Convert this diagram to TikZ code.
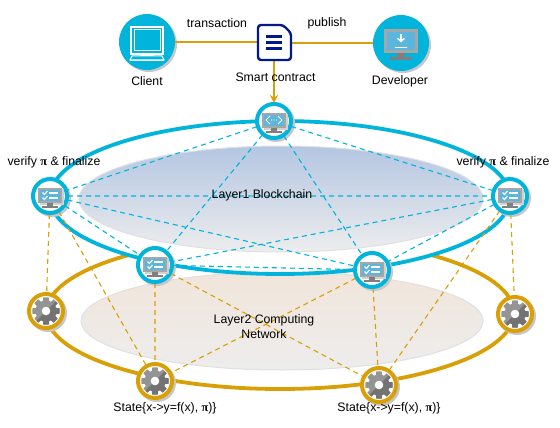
\documentclass[tikz,border=0pt]{standalone}
\usepackage{fontspec}
\setmainfont{Liberation Sans}
\newfontfamily\pifont{Liberation Serif}
\usetikzlibrary{shapes.geometric,arrows.meta}
\definecolor{cy}{HTML}{00B4DC}
\definecolor{au}{HTML}{D99F06}
\definecolor{nv}{HTML}{001A8C}
\definecolor{sc}{HTML}{5BB5DD}
\definecolor{fr}{HTML}{A6A6A6}
\definecolor{st}{HTML}{7F7F7F}
\definecolor{skytop}{HTML}{B4C6E2}
\definecolor{tantop}{HTML}{F1E5DA}
\definecolor{softbot}{HTML}{EDEDED}
\newcommand{\ppi}{{\pifont\bfseries π}}
\tikzset{
 x=1pt,y=-1pt,
 lbl/.style={font=\fontsize{12.3}{14.5}\selectfont,inner sep=0pt,align=center,text=black},
 bigell/.style={draw,ellipse,inner sep=0pt,outer sep=0pt,line width=3.8pt},
 softell/.style={ellipse,inner sep=0pt,outer sep=0pt,draw=black!12,line width=1pt},
 blring/.style={circle,draw=cy,fill=white,line width=4pt,minimum size=34pt,inner sep=0pt,outer sep=0pt},
 auring/.style={circle,draw=au,fill=white,line width=4pt,minimum size=34pt,inner sep=0pt,outer sep=0pt},
 badge/.style={circle,fill=cy,minimum size=56pt,inner sep=0pt,outer sep=0pt},
 shad/.style={circle,fill=black!22,minimum size=#1,inner sep=0pt},
 anchorpt/.style={circle,minimum size=36pt,inner sep=0pt,outer sep=0pt},
 bldash/.style={draw=cy,line width=1.1pt,dash pattern=on 5pt off 4pt},
 audash/.style={draw=au,line width=1.1pt,dash pattern=on 5pt off 4pt},
 auline/.style={draw=au,line width=1.5pt},
 mon/.pic={
  \fill[black!18] (-10.5,-7) rectangle (13.5,8.5);
  \fill[fr] (-12,-8.5) rectangle (12,7);
  \fill[sc] (-10,-6.5) rectangle (10,5);
  \fill[st] (-3,7) rectangle (3,10);
  \fill[st] (-8,10) rectangle (8,12);
 },
 chk/.pic={
  \draw[white,line width=1.1pt] (-7.5,-3.5) -- (-5.5,-1.5) -- (-2.5,-5);
  \draw[white,line width=1.1pt] (-7.5,1.5) -- (-5.5,3.5) -- (-2.5,0);
  \draw[white,line width=1.1pt] (-1,-3) -- (8,-3) (-1,2) -- (8,2);
 },
 gearic/.pic={
  \begin{scope}
   \clip (-11:14) \foreach \a in {0,45,...,315}{ -- (\a-11:14) -- (\a+11:14) -- (\a+17:10.5) -- (\a+28:10.5)} -- cycle;
   \fill[black!42] (-15,-15) rectangle (15,15);
   \fill[black!55] (-2,2) -- (15,-15) -- (15,15) -- (-15,15) -- cycle;
  \end{scope}
  \fill[white] (0,0) circle (4.3);
 }
}
\begin{document}
\begin{tikzpicture}
\useasboundingbox (0,0) rectangle (560,428);
% layer 2
\node[softell,minimum width=402pt,minimum height=98pt,top color=tantop,bottom color=softbot] (tan) at (282,321) {};
\node[bigell,draw=au,minimum width=468pt,minimum height=152pt] (goldring) at (280,313) {};
% layer 1
\node[bigell,draw=cy,fill=white,minimum width=460pt,minimum height=153pt] (bluering) at (280,197.5) {};
\node[softell,minimum width=404pt,minimum height=106pt,top color=skytop,bottom color=softbot] (sky) at (281,199) {};
% shadows
\node[shad=38pt] (s1) at (276,123) {};
\node[shad=38pt] (s2) at (52,198) {};
\node[shad=38pt] (s3) at (512,198) {};
\node[shad=38pt] (s4) at (157,267) {};
\node[shad=38pt] (s5) at (374,272) {};
\node[shad=38pt] (s6) at (48,313) {};
\node[shad=38pt] (s7) at (517,316) {};
\node[shad=38pt] (s8) at (157,383) {};
\node[shad=38pt] (s9) at (381,387) {};
\node[anchorpt] (c) at (274,121) {};
\node[anchorpt] (l) at (50,196) {};
\node[anchorpt] (r) at (510,196) {};
\node[anchorpt] (f) at (155,265) {};
\node[anchorpt] (g) at (372,270) {};
\node[anchorpt] (g1) at (46,311) {};
\node[anchorpt] (g2) at (515,314) {};
\node[anchorpt] (g3) at (155,381) {};
\node[anchorpt] (g4) at (379,385) {};
% blue mesh
\draw[bldash] (c)--(l) (c)--(r) (c)--(f) (c)--(g) (l)--(r) (l)--(f) (l)--(g) (r)--(f) (r)--(g) (f)--(g);
% gold mesh
\draw[audash] (l)--(g1) (l)--(g3) (f)--(g3) (f)--(g4) (g)--(g3) (g)--(g4) (r)--(g4) (r)--(g2);
% rings on top
\node[blring] at (c) {};
\node[blring] at (l) {};
\node[blring] at (r) {};
\node[blring] at (f) {};
\node[blring] at (g) {};
\node[auring] at (g1) {};
\node[auring] at (g2) {};
\node[auring] at (g3) {};
\node[auring] at (g4) {};
\foreach \n in {l,r,f,g}{ \pic at (\n) {mon}; \pic at (\n) {chk}; }
\pic at (c) {mon};
\draw[white,line width=.9pt] (c)++(-4,-5) -- ++(-4,4) -- ++(4,4);
\draw[white,line width=.9pt] (c)++(4,-5) -- ++(4,4) -- ++(-4,4);
\foreach \d in {-2.5,0,2.5}{\fill[white] (c)++(\d,-1) circle (.7);}
\foreach \n in {g1,g2,g3,g4}{ \pic at (\n) {gearic}; }
% top row
\node[shad=56pt] (sa) at (149,44) {};
\node[shad=56pt] (sb) at (403,45) {};
\node[badge] (client) at (147,42) {};
\node[badge] (dev) at (401,43) {};
\node[minimum width=33pt,minimum height=35pt,inner sep=0pt,outer sep=0pt] (doc) at (274,42.5) {};
\draw[auline] (client) -- (doc.west |- client);
\draw[auline] (doc.east |- dev) -- (dev);
\draw[auline,-{Stealth[length=8pt,width=8pt]}] (doc) -- (c);
\draw[draw=nv,fill=white,line width=2.4pt,rounded corners=3pt] (258,25) -- (283,25) -- (291,33) -- (291,60) -- (258,60) -- cycle;
% client icon
\draw[white,line width=1.2pt] (client)++(-16,-15) rectangle ++(32,27);
\draw[white,line width=1pt] (client)++(-13,-12) rectangle ++(26,21);
\fill[white] (client)++(-7,12) rectangle ++(14,2);
\draw[white,line width=1pt] (client)++(-15,14) -- ++(-2,4) -- ++(34,0) -- ++(-2,-4) -- cycle;
\fill[white] (client)++(-17,18) rectangle ++(34,1.5);
% developer icon
\begin{scope}[shift={(dev)},scale=1.4]
 \fill[fr] (-12,-10) rectangle (12,7);
 \fill[sc] (-10,-8) rectangle (10,5);
 \fill[st] (-3,7) rectangle (3,10);
 \fill[st] (-8,10) rectangle (8,12);
 \draw[white,line width=1.4pt,-{Straight Barb[length=3pt,width=7pt]}] (0,-6.5) -- (0,-.5);
 \draw[white,line width=1.2pt] (-4.5,3) -- (4.5,3);
\end{scope}
% doc bars
\foreach \y in {-6,0,6}{ \fill[nv] (doc)++(-8,\y-1.4) rectangle ++(16,2.8); }
% labels
\node[lbl] (t1) at (217,23) {transaction};
\node[lbl] (t2) at (327,23) {publish};
\node[lbl] (t3) at (147,81) {Client};
\node[lbl] (t4) at (275.5,77) {Smart contract};
\node[lbl] (t5) at (400,81) {Developer};
\node[lbl] (t6) at (54,162) {verify \ppi{} \& finalize};
\node[lbl] (t7) at (503,162) {verify \ppi{} \& finalize};
\node[lbl] (t8) at (262,195) {Layer1 Blockchain};
\node[lbl] (t9) at (264,326.5) {Layer2 Computing\\Network};
\node[lbl] (t10) at (165,408) {State\{x->y=f(x), \ppi)\}};
\node[lbl] (t11) at (389,408) {State\{x->y=f(x), \ppi)\}};
\end{tikzpicture}
\end{document}
